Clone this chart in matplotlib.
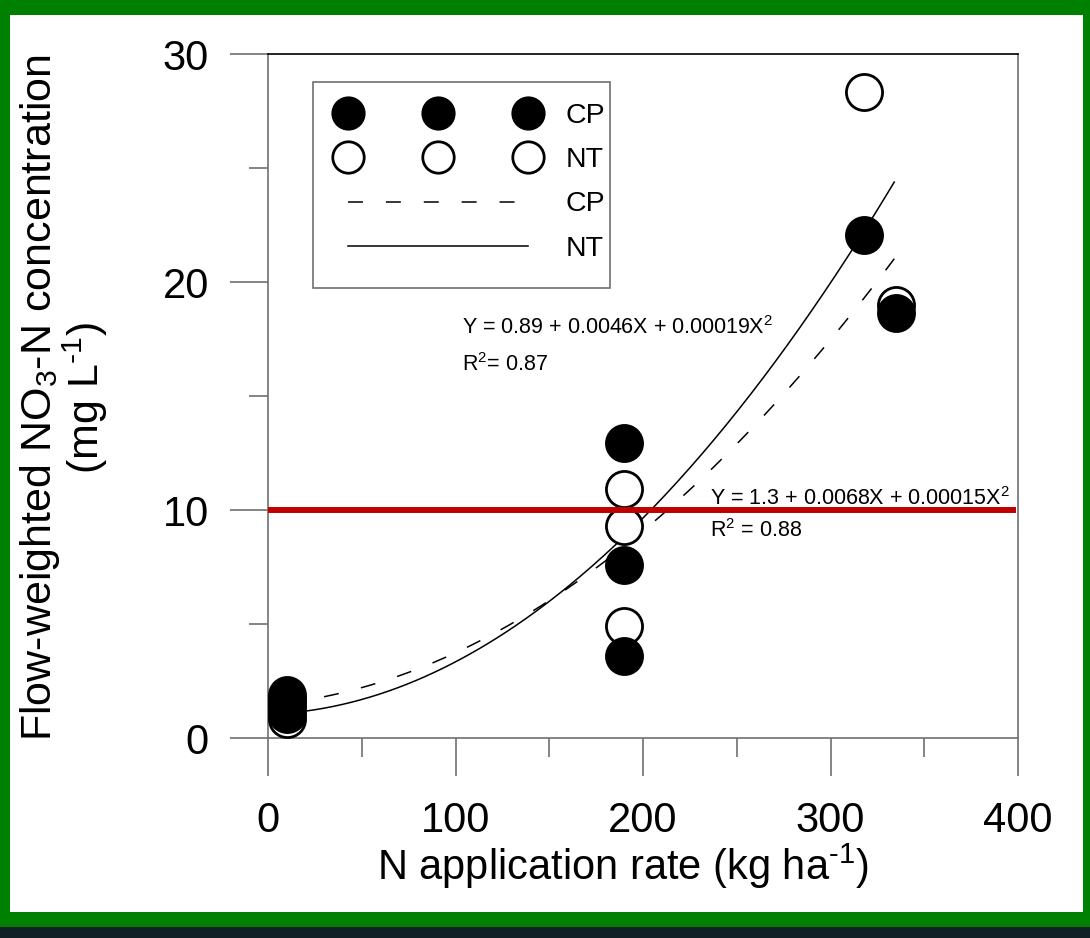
import numpy as np
import matplotlib
matplotlib.use("Agg")
import matplotlib.pyplot as plt
from matplotlib.patches import Rectangle
from matplotlib.lines import Line2D

# N application rate (kg/ha) and flow-weighted NO3-N (mg/L)
n_rate = [10, 10, 10, 190, 190, 190, 318, 335]
cp_conc = [1.9, 1.5, 1.05, 12.95, 7.6, 3.6, 22.05, 18.65]
nt_conc = [1.7, 1.3, 0.85, 10.9, 9.3, 4.9, 28.35, 19.0]

# points (x, y)
nt_curve_x = [20.6, 161, 225, 318, 333]
nt_curve_y = [1.2, 6.62, 11.97, 22.15, 24.3]
cp_curve_x = [35, 177, 209, 301, 334]
cp_curve_y = [1.9, 7.59, 9.69, 17.6, 21.0]
fit_range = [10, 334]

standard = 10  # drinking water limit, mg/L

plt.rcParams['font.family'] = ['Liberation Sans', 'DejaVu Sans']
plt.rcParams['mathtext.fontset'] = 'custom'
plt.rcParams['mathtext.rm'] = 'Liberation Sans'
plt.rcParams['mathtext.it'] = 'Liberation Sans:italic'
plt.rcParams['mathtext.bf'] = 'Liberation Sans:bold'

W, H = 1090, 938
fig = plt.figure(figsize=(W / 100, H / 100), dpi=100, facecolor='#008000')
# white slide area and dark strip at the bottom
fig.add_artist(Rectangle((10 / W, 26 / H), 1073 / W, 897 / H, transform=fig.transFigure,
                         facecolor='white', edgecolor='none', zorder=-2))
fig.add_artist(Rectangle((0, 0), 1, 11 / H, transform=fig.transFigure,
                         facecolor='#102026', edgecolor='none', zorder=-2))

ax = fig.add_axes([268 / W, (H - 738) / H, 750 / W, 684 / H])
ax.set_facecolor('none')

ms, mew = 26, 2
ax.plot(n_rate, nt_conc, 'o', ms=ms, mfc='white', mec='black', mew=mew, zorder=3)
ax.plot(n_rate, cp_conc, 'o', ms=ms, mfc='black', mec='black', mew=mew, zorder=4)

# smooth quadratic through the points
xs = np.linspace(fit_range[0], fit_range[1], 200)
cp_poly = np.polyfit(cp_curve_x, cp_curve_y, 2)
nt_poly = np.polyfit(nt_curve_x, nt_curve_y, 2)
ax.plot(xs, np.polyval(cp_poly, xs), color='black', lw=1.1, dashes=(9.8, 15), zorder=2)
ax.plot(xs, np.polyval(nt_poly, xs), color='black', lw=1.1, zorder=2)

ax.axhline(standard, xmin=0, xmax=0.993, color='#c00000', lw=4.3, zorder=6)

eq_kw = dict(fontsize=15.5, ha='left', va='baseline', zorder=5)
ax.text(103.5, 17.7, 'Y = 0.89 + 0.0046X + 0.00019X$^2$', **eq_kw)
ax.text(103.5, 16.1, 'R$^2$= 0.87', **eq_kw)
ax.text(235.7, 10.2, 'Y = 1.3 + 0.0068X + 0.00015X$^2$', **eq_kw)
ax.text(235.7, 8.8, 'R$^2$ = 0.88', **eq_kw)

ax.set_xlim(0, 400)
ax.set_ylim(0, 30)
ax.set_xticks([0, 100, 200, 300, 400])
ax.set_xticks([50, 150, 250, 350], minor=True)
ax.set_yticks([0, 10, 20, 30])
ax.set_yticks([5, 15, 25], minor=True)

grey = '#707070'
for s in ['left', 'bottom', 'right']:
    ax.spines[s].set_color(grey)
    ax.spines[s].set_linewidth(1.2)
ax.spines['top'].set_color('black')
ax.spines['top'].set_linewidth(1.2)
ax.tick_params(which='major', direction='out', length=27.5, width=1.2, color=grey, labelsize=30)
ax.tick_params(which='minor', direction='out', length=14, width=1.2, color=grey)
ax.tick_params(axis='x', which='major', pad=18)
ax.tick_params(axis='y', which='major', pad=15)

# legend
handles = [
    Line2D([], [], marker='o', ls='none', ms=ms, mfc='black', mec='black', mew=mew),
    Line2D([], [], marker='o', ls='none', ms=ms, mfc='white', mec='black', mew=mew),
    Line2D([], [], color='black', lw=1.1, dashes=(9.8, 15)),
    Line2D([], [], color='black', lw=1.1),
]
ax.legend(handles, ['CP', 'NT', 'CP', 'NT'], loc='upper left',
          bbox_to_anchor=(0.0947, 0.9283), frameon=False, numpoints=3,
          fontsize=20.5, handlelength=6.95, handletextpad=1.02, labelspacing=0.64,
          markerscale=0.87, borderpad=0, borderaxespad=0)
ax.add_patch(Rectangle((0.06, 0.658), 0.396, 0.301, transform=ax.transAxes,
                       fill=False, edgecolor=grey, lw=1.2, zorder=5))

fig.text(623 / W, (H - 880) / H, r'N application rate (kg ha$^{\text{-}1}$)', fontsize=30,
         ha='center', va='baseline')
fig.text(64 / W, (H - 398) / H,
         'Flow-weighted NO$_3$-N concentration\n' + r'(mg L$^{\text{-}1}$)',
         fontsize=31, rotation=90, ha='center', va='center', linespacing=0.95)

fig.savefig('out.png', dpi=100, facecolor=fig.get_facecolor())
